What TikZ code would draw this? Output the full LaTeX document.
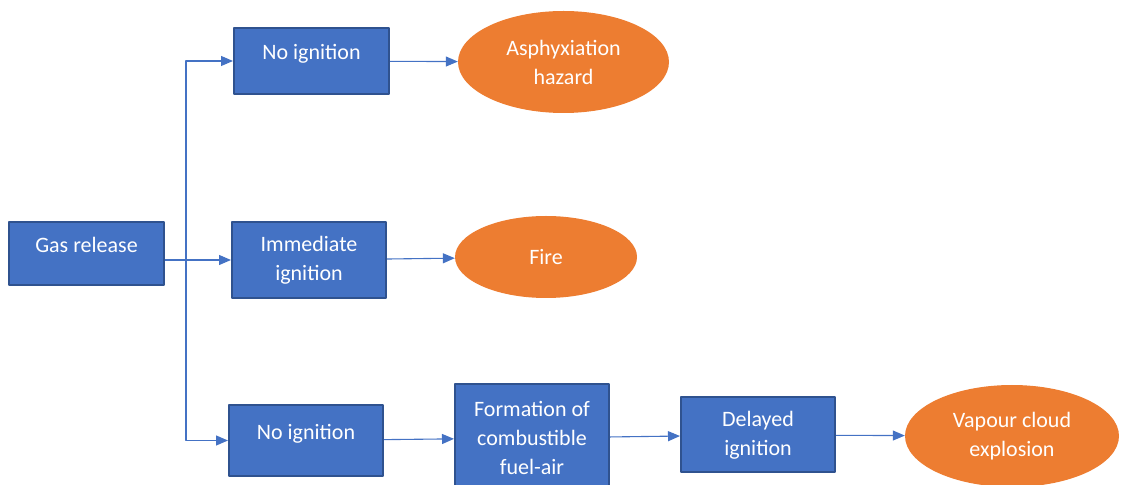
\documentclass[tikz,border=0pt]{standalone}
\usepackage{fontspec}
\setmainfont{Carlito}
\usetikzlibrary{arrows.meta,shapes.geometric}
\definecolor{boxblue}{HTML}{4472C4}
\definecolor{boxedge}{HTML}{2F528F}
\definecolor{endorange}{HTML}{ED7D31}
\tikzset{
  stepbox/.style={draw=boxedge,line width=2bp,fill=boxblue,text=white,align=center,inner sep=0pt,
    font=\fontsize{22bp}{29bp}\selectfont},
  endblob/.style={ellipse,fill=endorange,text=white,align=center,inner sep=0pt,
    font=\fontsize{22bp}{29bp}\selectfont},
  raised/.style={text height=15bp,text depth=17bp},
  link/.style={boxblue,line width=1.1bp,->},
}
\begin{document}
\begin{tikzpicture}[>={Triangle[length=12bp,width=10bp]},line join=bevel,]
\useasboundingbox (0bp,0bp) rectangle (1121bp,485bp);
%%
\node (gas) at (86.5bp,231.5bp) [stepbox,raised,minimum width=155bp,minimum height=63bp] {Gas release};
  \node (noign1) at (311.5bp,424bp) [stepbox,raised,minimum width=155bp,minimum height=66bp] {No ignition};
  \node (imm) at (309bp,225bp) [stepbox,minimum width=154bp,minimum height=76bp] {Immediate\\ignition};
  \node (noign2) at (306bp,44.5bp) [stepbox,raised,minimum width=154bp,minimum height=71bp] {No ignition};
  \node (form) at (532bp,47bp) [stepbox,minimum width=154bp,minimum height=108bp] {Formation of\\combustible\\fuel-air};
  \node (delayed) at (758bp,50bp) [stepbox,minimum width=154bp,minimum height=75bp] {Delayed\\ignition};
  \node (asph) at (563.5bp,423bp) [endblob,minimum width=211bp,minimum height=102bp] {Asphyxiation\\hazard};
  \node (fire) at (546bp,228bp) [endblob,minimum width=182bp,minimum height=82bp] {Fire};
  \node (vapour) at (1012bp,49bp) [endblob,minimum width=214bp,minimum height=102bp] {Vapour cloud\\explosion};
  \coordinate (split) at (186bp,226bp);
  \draw [link] (gas.east |- imm.west) -- (imm);
  \draw [link] (split) |- (noign1);
  \draw [link] (split) |- (noign2);
  \draw [link] (noign1) -- (asph);
  \draw [link] (imm) -- (fire);
  \draw [link] (noign2) -- (form);
  \draw [link] (form) -- (delayed);
  \draw [link] (delayed) -- (vapour);
%
\end{tikzpicture}
\end{document}
